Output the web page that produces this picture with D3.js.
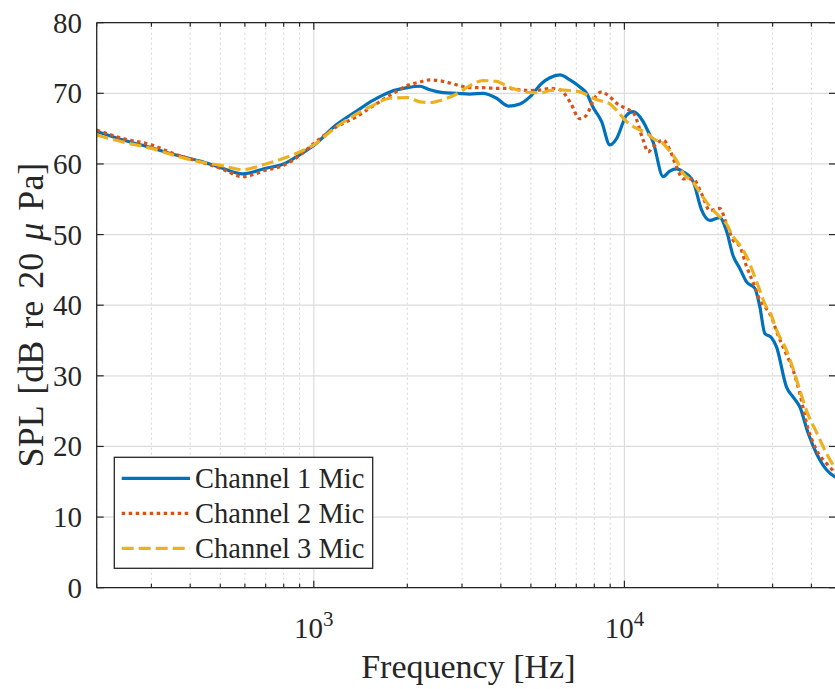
<!DOCTYPE html>
<meta charset="utf-8">
<script src="https://d3js.org/d3.v7.min.js"></script>
<style>
    body { margin: 0; background: #fff; }
    text { font-family: "Liberation Serif", "Times New Roman", serif; fill: #262626; }
</style>
<div id="my_dataviz"></div>
<script>

    // frequency grid (Hz) shared by the three measurements
    var freqs = [200, 243, 300, 357, 430, 500, 591, 700, 800, 900,
        1000, 1178, 1374, 1550, 1758, 2000, 2196, 2364, 2604, 2883,
        3181, 3503, 3878, 4225, 4608, 4962, 5413, 5754, 6199, 6677,
        7189, 7555, 7933, 8445, 8977, 9436, 10162, 10670, 11489, 11924,
        12374, 13327, 14000, 14715, 15453, 16648, 17714, 18836, 20282, 21318,
        22387, 23530, 24730, 26297, 27288, 28318, 29760, 30882, 33259, 34929,
        36700, 39030, 41540, 44730, 48000];

    var channel1 = [64.6, 63.4, 62.3, 61.3, 60.4, 59.5, 58.6, 59.4, 60.0, 61.3,
        62.6, 65.5, 67.5, 69.0, 70.2, 70.8, 71.0, 70.5, 70.1, 70.0,
        69.9, 70.0, 69.3, 68.2, 68.5, 69.5, 71.4, 72.2, 72.6, 71.9,
        70.9, 70.0, 68.0, 66.0, 62.7, 63.6, 66.9, 67.4, 66.0, 64.6,
        63.1, 58.2, 59.0, 59.3, 58.9, 57.5, 53.5, 52.0, 52.4, 50.5,
        47.0, 45.2, 43.3, 42.4, 39.8, 36.0, 35.4, 34.1, 28.4, 27.0,
        25.6, 21.9, 19.0, 16.7, 15.6];

    var channel2 = [64.8, 63.6, 62.7, 61.4, 60.3, 59.4, 58.2, 59.1, 59.8, 61.2,
        62.9, 65.2, 66.7, 68.2, 69.7, 71.1, 71.6, 71.9, 71.7, 71.2,
        70.8, 70.8, 70.7, 70.7, 70.5, 70.4, 70.5, 70.7, 70.5, 68.8,
        66.4, 66.9, 69.0, 70.2, 69.5, 68.6, 67.8, 67.3, 63.4, 61.7,
        62.4, 63.4, 62.0, 59.6, 57.9, 57.9, 55.8, 53.4, 53.7, 51.5,
        49.2, 48.3, 45.5, 42.6, 40.7, 39.8, 38.3, 36.3, 33.0, 30.8,
        27.5, 22.5, 19.5, 17.6, 16.2];

    var channel3 = [64.1, 63.1, 62.2, 61.2, 60.3, 59.8, 59.2, 60.0, 60.8, 61.7,
        62.7, 65.2, 67.1, 68.3, 69.3, 69.4, 68.8, 68.7, 69.1, 69.9,
        71.1, 71.8, 71.7, 70.9, 70.4, 70.1, 70.1, 70.4, 70.5, 70.4,
        70.2, 69.8, 69.3, 68.9, 68.5, 67.6, 66.0, 65.3, 64.6, 64.2,
        63.6, 62.9, 61.8, 60.5, 58.7, 57.4, 55.6, 54.0, 52.5, 51.5,
        49.7, 48.5, 46.9, 44.0, 42.1, 40.2, 38.5, 36.5, 33.6, 31.0,
        28.0, 24.5, 22.0, 19.0, 16.7];

    var seriesNames = ["Channel 1 Mic", "Channel 2 Mic", "Channel 3 Mic"];
    var yTicks = [0, 10, 20, 30, 40, 50, 60, 70, 80];
    var xMajor = [1000, 10000];
    var xMinor = [200, 300, 400, 500, 600, 700, 800, 900,
        2000, 3000, 4000, 5000, 6000, 7000, 8000, 9000,
        20000, 30000, 40000];

    var W = 835, H = 689;
    var pLeft = 96.7, pRight = 836, pTop = 22.7, pBottom = 587.7;
    var axisColor = "#262626";

    var svg = d3.select("#my_dataviz")
        .append("svg")
        .attr("width", W)
        .attr("height", H);

    var x = d3.scaleLog().domain([200, 48000]).range([pLeft, pRight]);
    var y = d3.scaleLinear().domain([0, 80]).range([pBottom, pTop]);

    // grid
    svg.selectAll("minorgrid")
        .data(xMinor)
        .enter()
        .append("line")
        .attr("x1", function (d) { return x(d); })
        .attr("x2", function (d) { return x(d); })
        .attr("y1", pTop)
        .attr("y2", pBottom)
        .attr("stroke", "#d4d4d4")
        .attr("stroke-width", 1)
        .attr("stroke-dasharray", "2,3");

    svg.selectAll("majorgridx")
        .data(xMajor)
        .enter()
        .append("line")
        .attr("x1", function (d) { return x(d); })
        .attr("x2", function (d) { return x(d); })
        .attr("y1", pTop)
        .attr("y2", pBottom)
        .attr("stroke", "#dcdcdc")
        .attr("stroke-width", 1.2);

    svg.selectAll("majorgridy")
        .data(yTicks)
        .enter()
        .append("line")
        .attr("x1", pLeft)
        .attr("x2", pRight)
        .attr("y1", function (d) { return y(d); })
        .attr("y2", function (d) { return y(d); })
        .attr("stroke", "#dcdcdc")
        .attr("stroke-width", 1.2);

    // curves
    var line = d3.line()
        .x(function (d) { return x(d[0]); })
        .y(function (d) { return y(d[1]); })
        .curve(d3.curveMonotoneX);

    svg.append("clipPath").attr("id", "clip")
        .append("rect")
        .attr("x", pLeft).attr("y", pTop)
        .attr("width", pRight - pLeft).attr("height", pBottom - pTop);

    var styles = [
        { color: "#0072BD", dash: null },
        { color: "#D95319", dash: "3.5,3.5" },
        { color: "#EDB120", dash: "12,5" }
    ];
    var allSeries = [channel1, channel2, channel3];

    allSeries.forEach(function (vals, i) {
        svg.append("path")
            .datum(freqs.map(function (f, j) { return [f, vals[j]]; }))
            .attr("clip-path", "url(#clip)")
            .attr("fill", "none")
            .attr("stroke", styles[i].color)
            .attr("stroke-width", 3.2)
            .attr("stroke-dasharray", styles[i].dash)
            .attr("d", line);
    });

    // axes box
    svg.append("line").attr("x1", pLeft).attr("x2", pLeft).attr("y1", pTop).attr("y2", pBottom)
        .attr("stroke", axisColor).attr("stroke-width", 1.3);
    svg.append("line").attr("x1", pLeft).attr("x2", pRight).attr("y1", pBottom).attr("y2", pBottom)
        .attr("stroke", axisColor).attr("stroke-width", 1.3);
    svg.append("line").attr("x1", pLeft).attr("x2", pRight).attr("y1", pTop).attr("y2", pTop)
        .attr("stroke", axisColor).attr("stroke-width", 1.3);
    svg.append("line").attr("x1", pRight).attr("x2", pRight).attr("y1", pTop).attr("y2", pBottom)
        .attr("stroke", axisColor).attr("stroke-width", 1.3);

    // y ticks (inward, both sides)
    yTicks.forEach(function (d) {
        svg.append("line").attr("x1", pLeft).attr("x2", pLeft + 7)
            .attr("y1", y(d)).attr("y2", y(d)).attr("stroke", axisColor).attr("stroke-width", 1.2);
        svg.append("line").attr("x1", pRight - 7).attr("x2", pRight)
            .attr("y1", y(d)).attr("y2", y(d)).attr("stroke", axisColor).attr("stroke-width", 1.2);
        svg.append("text")
            .attr("x", 82)
            .attr("y", y(d) + 10)
            .attr("text-anchor", "end")
            .style("font-size", "29px")
            .text(d);
    });

    // x ticks
    xMinor.forEach(function (d) {
        svg.append("line").attr("x1", x(d)).attr("x2", x(d))
            .attr("y1", pBottom).attr("y2", pBottom - 4).attr("stroke", axisColor).attr("stroke-width", 1.2);
        svg.append("line").attr("x1", x(d)).attr("x2", x(d))
            .attr("y1", pTop).attr("y2", pTop + 4).attr("stroke", axisColor).attr("stroke-width", 1.2);
    });
    xMajor.forEach(function (d) {
        svg.append("line").attr("x1", x(d)).attr("x2", x(d))
            .attr("y1", pBottom).attr("y2", pBottom - 7).attr("stroke", axisColor).attr("stroke-width", 1.2);
        svg.append("line").attr("x1", x(d)).attr("x2", x(d))
            .attr("y1", pTop).attr("y2", pTop + 7).attr("stroke", axisColor).attr("stroke-width", 1.2);
        var t = svg.append("text")
            .attr("x", x(d))
            .attr("y", 638)
            .attr("text-anchor", "middle")
            .style("font-size", "29px");
        t.append("tspan").text("10");
        t.append("tspan")
            .attr("dy", -12)
            .style("font-size", "21px")
            .text(Math.round(Math.log10(d)));
    });

    // axis labels
    svg.append("text")
        .attr("x", (pLeft + pRight) / 2 + 2)
        .attr("y", 678)
        .attr("text-anchor", "middle")
        .style("font-size", "34px")
        .text("Frequency [Hz]");

    var yl = svg.append("text")
        .attr("transform", "translate(43," + 315 + ") rotate(-90)")
        .attr("text-anchor", "middle")
        .style("font-size", "36px")
        .style("word-spacing", "3px");
    yl.append("tspan").text("SPL [dB re 20 ");
    yl.append("tspan").style("font-style", "italic").text("\u03bc");
    yl.append("tspan").text(" Pa]");

    // legend
    var legend = svg.append("g");
    legend.append("rect")
        .attr("x", 114.3).attr("y", 457.3)
        .attr("width", 258.4).attr("height", 111)
        .attr("fill", "white")
        .attr("stroke", axisColor)
        .attr("stroke-width", 1.3);

    seriesNames.forEach(function (name, i) {
        var ry = 478.3 + i * 35;
        legend.append("line")
            .attr("x1", 121.7).attr("x2", 190)
            .attr("y1", ry).attr("y2", ry)
            .attr("stroke", styles[i].color)
            .attr("stroke-width", 3.2)
            .attr("stroke-dasharray", styles[i].dash);
        legend.append("text")
            .attr("x", 195)
            .attr("y", ry + 10)
            .style("font-size", "28.5px")
            .text(name);
    });

</script>
